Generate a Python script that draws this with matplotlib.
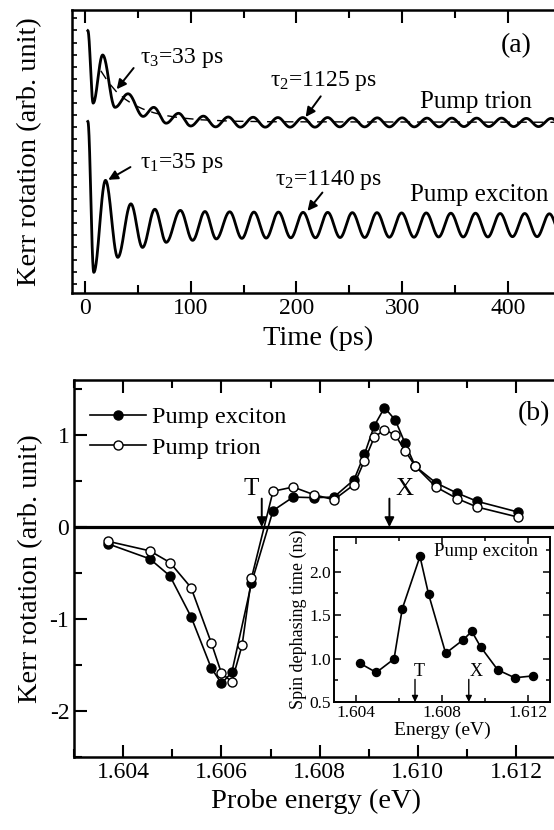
import numpy as np
import matplotlib
matplotlib.use("Agg")
import matplotlib.pyplot as plt
from matplotlib.ticker import MultipleLocator, FormatStrFormatter

plt.rcParams['font.family'] = ['Liberation Serif', 'DejaVu Serif']
plt.rcParams['mathtext.fontset'] = 'custom'
plt.rcParams['mathtext.rm'] = 'Liberation Serif'
plt.rcParams['mathtext.it'] = 'Liberation Serif:italic'
plt.rcParams['axes.unicode_minus'] = False

# ---------------- Panel (a): time-resolved Kerr rotation (extrema)
exc_t = [2.7, 8.3, 19.4, 31.0, 43.4, 54.4, 66.1, 76.8, 90.2, 101.8, 113.5, 124.2,
         136.9, 148.4, 159.8, 171.4, 183.0, 194.7, 206.3, 218.0, 229.6, 241.3,
         252.9, 264.6, 276.2, 287.9, 299.5, 311.2, 322.8, 334.5, 346.1, 357.8,
         369.4, 381.1, 392.7, 404.4, 416.0, 427.7, 439.3, 451.0, 462.6, 474.3,
         485.9, 497.6]
exc_v = [6.06, 0.73, 3.98, 1.26, 3.15, 1.61, 2.96, 1.79, 2.92, 1.86, 2.88, 1.91,
         2.87, 1.93, 2.86, 1.94, 2.86, 1.95, 2.85, 1.95, 2.85, 1.96, 2.84, 1.96,
         2.84, 1.97, 2.83, 1.97, 2.83, 1.98, 2.82, 1.98, 2.82, 1.98, 2.81, 1.99,
         2.81, 1.99, 2.80, 1.99, 2.80, 2.00, 2.80, 2.00]
tri_t = [2.7, 7.7, 16.7, 28.4, 40.7, 55.0, 65.0, 76.8, 88.5, 100.0, 112.0, 123.5,
         135.5, 147.0, 159.0, 170.5, 182.5, 194.0, 206.0, 217.5, 229.5, 241.0,
         253.0, 264.5, 276.5, 288.0, 300.0, 311.5, 323.5, 335.0, 347.0, 358.5,
         370.5, 382.0, 394.0, 405.5, 417.5, 429.0, 441.0, 452.5, 464.5, 476.0,
         488.0, 499.5]
tri_v = [9.27, 6.71, 8.41, 6.56, 7.04, 6.24, 6.56, 6.00, 6.35, 5.90, 6.25, 5.87,
         6.22, 5.86, 6.21, 5.86, 6.20, 5.86, 6.20, 5.86, 6.20, 5.87, 6.19, 5.87,
         6.19, 5.87, 6.19, 5.87, 6.18, 5.87, 6.18, 5.88, 6.18, 5.88, 6.18, 5.88,
         6.17, 5.88, 6.17, 5.88, 6.17, 5.88, 6.17, 5.88]
fit_t = [15, 22, 30, 38, 46, 55, 65, 75, 90, 110, 140, 180, 500]
fit_v = [7.85, 7.45, 7.10, 6.85, 6.65, 6.50, 6.37, 6.28, 6.19, 6.12, 6.07, 6.05, 6.03]

# ---------------- Panel (b): Kerr rotation vs probe energy
E_exc = [1.60368, 1.60454, 1.60495, 1.60538, 1.60579, 1.60600, 1.60621, 1.60661,
         1.60705, 1.60746, 1.60788, 1.60829, 1.60870, 1.60891, 1.60911, 1.60932,
         1.60954, 1.60974, 1.60995, 1.61037, 1.61080, 1.61121, 1.61204]
K_exc = [-0.18, -0.345, -0.531, -0.975, -1.531, -1.70, -1.58, -0.61,
         0.18, 0.327, 0.32, 0.327, 0.516, 0.79, 1.10, 1.30,
         1.164, 0.91, 0.66, 0.48, 0.37, 0.28, 0.164]
E_tri = [1.60368, 1.60454, 1.60495, 1.60538, 1.60579, 1.60600, 1.60621, 1.60642,
         1.60661, 1.60705, 1.60746, 1.60788, 1.60829, 1.60870, 1.60891, 1.60911,
         1.60932, 1.60954, 1.60974, 1.60995, 1.61037, 1.61080, 1.61121, 1.61204]
K_tri = [-0.153, -0.258, -0.385, -0.658, -1.255, -1.59, -1.68, -1.284,
         -0.556, 0.39, 0.436, 0.353, 0.298, 0.462, 0.72, 0.975,
         1.06, 1.0, 0.83, 0.66, 0.436, 0.31, 0.218, 0.109]

# ---------------- Inset: spin dephasing time
E_ins = [1.60419, 1.60496, 1.60578, 1.60616, 1.60698, 1.60738, 1.60817, 1.60897,
         1.60938, 1.60979, 1.61058, 1.61137, 1.61219]
T_ins = [0.947, 0.84, 0.996, 1.573, 2.176, 1.74, 1.061, 1.214, 1.313, 1.134,
         0.87, 0.779, 0.80]


def smooth_through(ts, vs, n=40):
    xs, ys = [], []
    for i in range(len(ts) - 1):
        s = np.linspace(0, 1, n, endpoint=False)
        xs.append(ts[i] + (ts[i + 1] - ts[i]) * s)
        ys.append(vs[i] + (vs[i + 1] - vs[i]) * (1 - np.cos(np.pi * s)) / 2)
    xs.append([ts[-1]])
    ys.append([vs[-1]])
    return np.concatenate(xs), np.concatenate(ys)


fig = plt.figure(figsize=(5.54, 8.30), dpi=100)

SP = 1.8
TICK_FS = 17
LABEL_FS = 20.5

# ================= Panel (a)
axA = fig.add_axes([72 / 554, 1 - 293 / 830, 0.9756, 283 / 830])
x, y = smooth_through(tri_t, tri_v)
axA.plot(x, y, color='k', lw=2.0)
x, y = smooth_through(exc_t, exc_v)
axA.plot(x, y, color='k', lw=2.0)
axA.plot(fit_t, fit_v, color='k', lw=1.0, dashes=(7, 5))
axA.set_xlim(-12.3, 499)
axA.set_ylim(0, 10)
axA.xaxis.set_major_locator(MultipleLocator(100))
axA.xaxis.set_minor_locator(MultipleLocator(50))
axA.set_yticks(np.arange(0.33, 10, 0.426))
axA.set_yticklabels([])
axA.tick_params(which='both', direction='in', top=True, right=True,
                labelsize=TICK_FS, width=1.5)
axA.tick_params(axis='x', which='major', length=9)
axA.tick_params(axis='x', which='minor', length=5.5)
axA.tick_params(axis='y', length=3.5, width=1.2)
for s in axA.spines.values():
    s.set_linewidth(SP)
axA.set_xlabel('Time (ps)', fontsize=LABEL_FS)
axA.xaxis.set_label_coords(0.455, -0.115)
axA.set_ylabel('Kerr rotation (arb. unit)', fontsize=LABEL_FS)
axA.yaxis.set_label_coords(-0.055, 0.5)

arrow_kw = dict(arrowstyle='-|>', color='k', lw=1.4, mutation_scale=14, shrinkA=0, shrinkB=0)
axA.annotate('', xy=(30, 7.2), xytext=(46, 7.95), arrowprops=arrow_kw)
axA.text(52, 8.3, 'τ$_3$=33 ps', fontsize=17, va='center')
axA.annotate('', xy=(208.7, 6.22), xytext=(223, 6.95), arrowprops=arrow_kw)
axA.text(175, 7.5, 'τ$_2$=1125 ps', fontsize=17, va='center')
axA.annotate('', xy=(22, 4.0), xytext=(43, 4.45), arrowprops=arrow_kw)
axA.text(52, 4.6, 'τ$_1$=35 ps', fontsize=17, va='center')
axA.annotate('', xy=(210.5, 2.9), xytext=(224.6, 3.55), arrowprops=arrow_kw)
axA.text(180, 4.0, 'τ$_2$=1140 ps', fontsize=17, va='center')
axA.text(317, 6.75, 'Pump trion', fontsize=18, va='center')
axA.text(307, 3.45, 'Pump exciton', fontsize=18, va='center')
axA.text(393, 8.75, '(a)', fontsize=20, va='center')

# ================= Panel (b)
axB = fig.add_axes([74.2 / 554, 1 - 757 / 830, 0.966, 377 / 830])
axB.axhline(0, color='k', lw=2.3)
axB.plot(E_exc, K_exc, color='k', lw=1.2, marker='o', ms=6.5, mfc='k', mec='k',
         label='Pump exciton')
axB.plot(E_tri, K_tri, color='k', lw=1.2, marker='o', ms=6.5, mfc='white', mec='k',
         mew=1.0, label='Pump trion')
axB.set_xlim(1.603, 1.6139)
axB.set_ylim(-2.5, 1.6)
axB.xaxis.set_major_locator(MultipleLocator(0.002))
axB.xaxis.set_minor_locator(MultipleLocator(0.001))
axB.xaxis.set_major_formatter(FormatStrFormatter('%.3f'))
axB.yaxis.set_major_locator(MultipleLocator(1))
axB.yaxis.set_minor_locator(MultipleLocator(0.5))
axB.yaxis.set_major_formatter(FormatStrFormatter('%d'))
axB.tick_params(which='both', direction='in', top=True, right=True,
                labelsize=TICK_FS, width=1.5)
axB.tick_params(which='major', length=9)
axB.tick_params(which='minor', length=5.5)
for s in axB.spines.values():
    s.set_linewidth(SP)
axB.set_xlabel('Probe energy (eV)', fontsize=LABEL_FS)
axB.xaxis.set_label_coords(0.452, -0.085)
axB.set_ylabel('Kerr rotation (arb. unit)', fontsize=LABEL_FS)
axB.yaxis.set_label_coords(-0.058, 0.5)
leg = axB.legend(loc='upper left', bbox_to_anchor=(0.0, 0.972), frameon=False,
                 fontsize=17.5, handlelength=2.3, handletextpad=0.25, labelspacing=0.35,
                 borderaxespad=0.25)
arrow_b = dict(arrowstyle='-|>', color='k', lw=1.4, mutation_scale=14, shrinkA=0, shrinkB=0)
axB.annotate('', xy=(1.60682, 0.0), xytext=(1.60682, 0.31), arrowprops=arrow_b)
axB.annotate('', xy=(1.60942, 0.0), xytext=(1.60942, 0.31), arrowprops=arrow_b)
axB.text(1.6066, 0.41, 'T', fontsize=18, ha='center', va='center')
axB.text(1.60972, 0.41, 'X', fontsize=18, ha='center', va='center')
axB.text(1.61203, 1.236, '(b)', fontsize=20, va='center')

# ================= Inset
axI = fig.add_axes([334 / 554, 1 - 702 / 830, 216 / 554, 165 / 830])
axI.set_zorder(5)
axI.plot(E_ins, T_ins, color='k', lw=1.2, marker='o', ms=5.8, mfc='k', mec='k')
axI.set_xlim(1.603, 1.613)
axI.set_ylim(0.5, 2.4)
axI.xaxis.set_major_locator(MultipleLocator(0.004))
axI.xaxis.set_minor_locator(MultipleLocator(0.002))
axI.xaxis.set_major_formatter(FormatStrFormatter('%.3f'))
axI.yaxis.set_major_locator(MultipleLocator(0.5))
axI.yaxis.set_minor_locator(MultipleLocator(0.25))
axI.yaxis.set_major_formatter(FormatStrFormatter('%.1f'))
axI.tick_params(which='both', direction='in', top=True, right=True,
                labelsize=12.5, width=1.1, pad=2)
axI.tick_params(which='major', length=5)
axI.tick_params(which='minor', length=3)
for s in axI.spines.values():
    s.set_linewidth(1.4)
axI.set_xlabel('Energy (eV)', fontsize=14, labelpad=1)
axI.set_ylabel('Spin dephasing time (ns)', fontsize=13, labelpad=2)
arrow_i = dict(arrowstyle='-|>', color='k', lw=1.0, mutation_scale=9, shrinkA=0, shrinkB=0)
axI.annotate('', xy=(1.60675, 0.5), xytext=(1.60675, 0.76), arrowprops=arrow_i)
axI.annotate('', xy=(1.60924, 0.5), xytext=(1.60924, 0.76), arrowprops=arrow_i)
axI.text(1.60695, 0.85, 'T', fontsize=13, ha='center', va='center')
axI.text(1.60959, 0.85, 'X', fontsize=13, ha='center', va='center')
axI.text(1.61245, 2.23, 'Pump exciton', fontsize=13.5, ha='right', va='center')

fig.savefig('out.png', dpi=100)
